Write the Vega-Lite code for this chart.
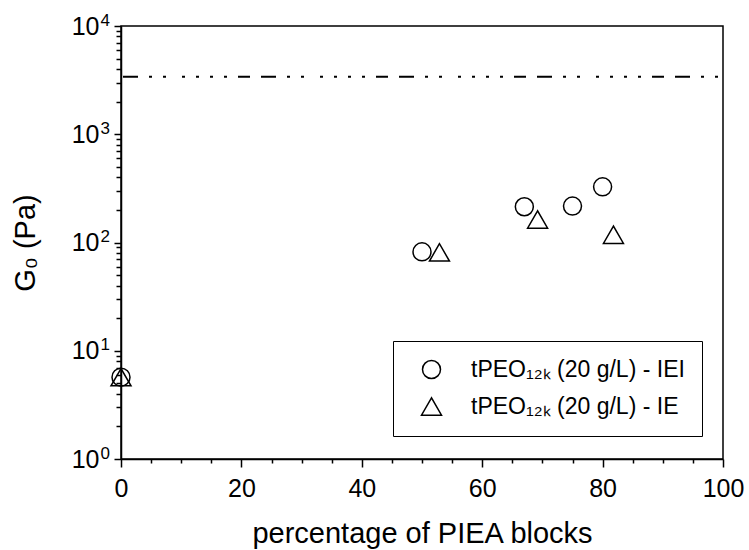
{
  "$schema": "https://vega.github.io/schema/vega-lite/v6.json",
  "width": 602,
  "height": 433,
  "autosize": {"type": "none"},
  "padding": {"left": 121, "top": 26, "right": 26, "bottom": 91},
  "config": {
    "font": "Liberation Sans",
    "view": {"stroke": "black", "strokeWidth": 1.5},
    "axis": {
      "grid": false,
      "domainColor": "black",
      "domainWidth": 1.5,
      "tickColor": "black",
      "tickWidth": 1.5,
      "labelColor": "black",
      "titleColor": "black",
      "labelFontSize": 25,
      "titleFontSize": 29,
      "titleFontWeight": "normal"
    }
  },
  "datasets": {
    "pts": [
      {"pct": 0, "G0": 5.7, "series": "tPEO₁₂ₖ (20 g/L) - IEI"},
      {"pct": 50, "G0": 82, "series": "tPEO₁₂ₖ (20 g/L) - IEI"},
      {"pct": 67, "G0": 214, "series": "tPEO₁₂ₖ (20 g/L) - IEI"},
      {"pct": 75, "G0": 217, "series": "tPEO₁₂ₖ (20 g/L) - IEI"},
      {"pct": 80, "G0": 327, "series": "tPEO₁₂ₖ (20 g/L) - IEI"},
      {"pct": 0, "G0": 5.7, "series": "tPEO₁₂ₖ (20 g/L) - IE"},
      {"pct": 52.9, "G0": 81, "series": "tPEO₁₂ₖ (20 g/L) - IE"},
      {"pct": 69.2, "G0": 163, "series": "tPEO₁₂ₖ (20 g/L) - IE"},
      {"pct": 81.8, "G0": 118, "series": "tPEO₁₂ₖ (20 g/L) - IE"}
    ],
    "limit": [{"G0": 3400}]
  },
  "resolve": {"axis": {"y": "independent"}, "scale": {"y": "shared"}},
  "layer": [
    {
      "data": {"name": "limit"},
      "mark": {"type": "rule", "color": "black", "strokeWidth": 2, "strokeDash": [0, 5, 3, 11, 3, 11, 15, 11, 12, 11, 3, 11, 3, 11, 3, 11, 3, 11]},
      "encoding": {
        "y": {
          "field": "G0",
          "type": "quantitative",
          "scale": {"type": "log", "domain": [1, 10000], "nice": false},
          "axis": {
            "orient": "left",
            "title": null,
            "domain": false,
            "ticks": false,
            "values": [1, 10, 100, 1000, 10000],
            "labelExpr": "format(log(datum.value) / log(10), '.0f')",
            "labelAlign": "left",
            "labelBaseline": "middle",
            "labelFontSize": 17,
            "labelPadding": 21,
            "labelOffset": -6,
            "labelFlush": false,
            "labelOverlap": false
          }
        }
      }
    },
    {
      "data": {"name": "pts"},
      "mark": {"type": "point", "filled": false, "color": "black", "strokeWidth": 1.5, "opacity": 1},
      "encoding": {
        "y": {
          "field": "G0",
          "type": "quantitative",
          "scale": {"type": "log", "domain": [1, 10000], "nice": false},
          "axis": {
            "orient": "left",
            "title": "G₀ (Pa)",
            "values": [1,2,3,4,5,6,7,8,9,10,20,30,40,50,60,70,80,90,100,200,300,400,500,600,700,800,900,1000,2000,3000,4000,5000,6000,7000,8000,9000,10000],
            "labelExpr": "indexof([1,10,100,1000,10000], datum.value) >= 0 ? '10' : ''",
            "tickSize": {"condition": {"test": "indexof([1,10,100,1000,10000], datum.value) >= 0", "value": 7}, "value": 5},
            "labelPadding": 15,
            "titlePadding": 31,
            "labelFlush": false,
            "labelOverlap": false
          }
        },
        "x": {
          "field": "pct",
          "type": "quantitative",
          "scale": {"domain": [0, 100], "nice": false},
          "axis": {
            "title": "percentage of PIEA blocks",
            "values": [0,5,10,15,20,25,30,35,40,45,50,55,60,65,70,75,80,85,90,95,100],
            "labelExpr": "datum.value % 20 === 0 ? datum.label : ''",
            "tickSize": {"condition": {"test": "datum.value % 20 === 0", "value": 8}, "value": 4},
            "labelPadding": 9,
            "titlePadding": 18,
            "labelFlush": false,
            "labelOverlap": false
          }
        },
        "shape": {
          "field": "series",
          "type": "nominal",
          "scale": {"domain": ["tPEO₁₂ₖ (20 g/L) - IEI", "tPEO₁₂ₖ (20 g/L) - IE"], "range": ["circle", "triangle-up"]},
          "legend": {
            "orient": "none",
            "legendX": 272,
            "legendY": 315,
            "title": null,
            "strokeColor": "black",
            "fillColor": "white",
            "padding": 17,
            "symbolOffset": 10,
            "labelOffset": 28,
            "rowPadding": 12,
            "labelFontSize": 23,
            "labelColor": "black",
            "labelLimit": 400,
            "symbolStrokeColor": "black",
            "symbolStrokeWidth": 1.5,
            "symbolFillColor": "transparent"
          }
        },
        "size": {
          "field": "series",
          "type": "nominal",
          "scale": {"domain": ["tPEO₁₂ₖ (20 g/L) - IEI", "tPEO₁₂ₖ (20 g/L) - IE"], "range": [324, 400]}
        }
      }
    }
  ]
}
